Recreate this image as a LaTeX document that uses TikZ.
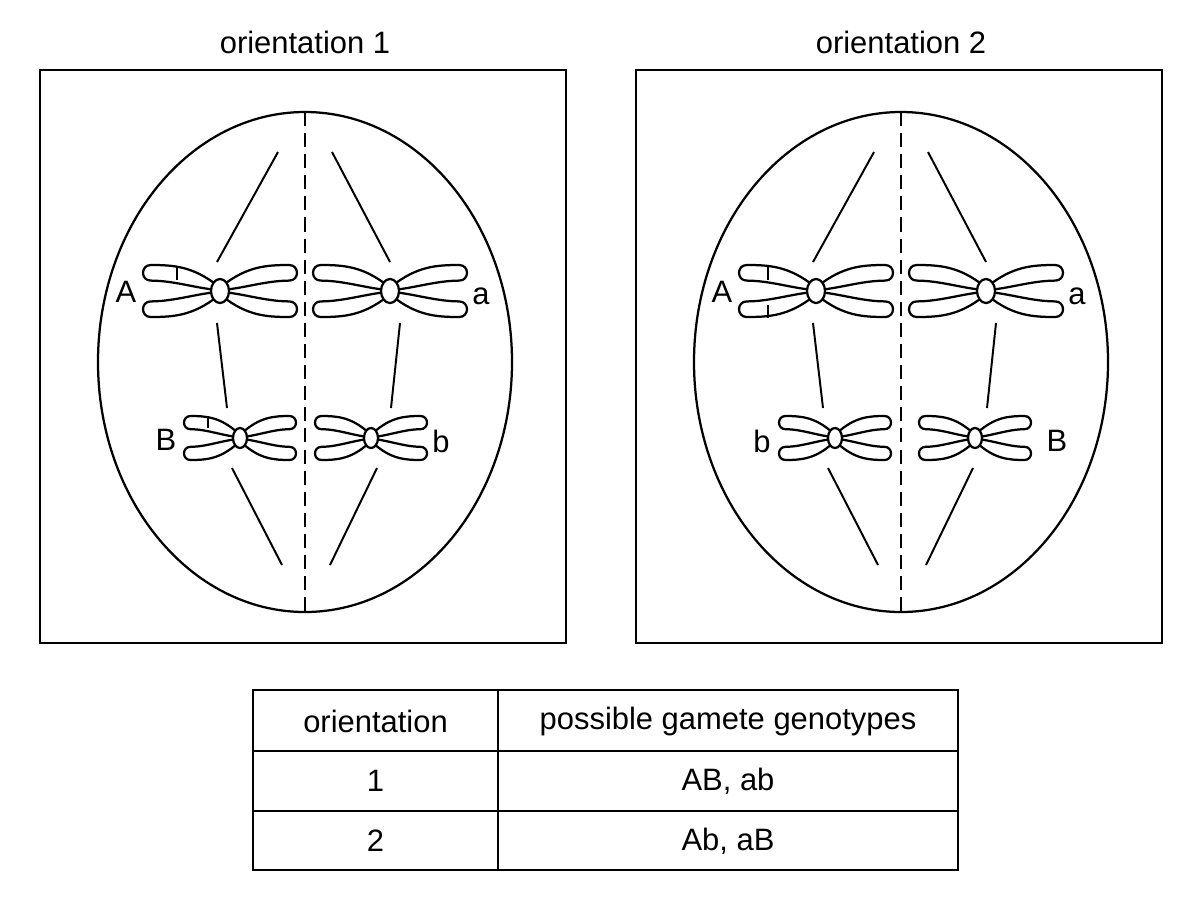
\documentclass[tikz,border=0pt]{standalone}
\usepackage{fontspec}
\setmainfont{Liberation Sans}
\begin{document}
\begin{tikzpicture}[x=0.025cm,y=-0.025cm,line width=1.6pt,
  lbl/.style={font=\fontsize{22}{26}\selectfont,inner sep=0pt},
  spindle/.style={line width=1.4pt},
  band/.style={line width=1.1pt},
  pics/chrom/.style n args={4}{code={
    \foreach \sx/\sy in {1/1,-1/1,1/-1,-1/-1}{
      \begin{scope}[xscale=\sx,yscale=\sy]
      \pgfmathsetmacro\r{0.3*#2}
      \draw[line join=round] (-2,-5) .. controls ({-0.35*#1},{-0.95*#2}) and ({-0.6*#1},{-#2}) .. ({-#1+\r},{-#2})
        .. controls ({-#1-0.33*\r},{-#2}) and ({-#1-0.33*\r},{-0.4*#2}) .. ({-#1+\r},{-0.4*#2})
        .. controls ({-0.6*#1},{-0.4*#2}) and ({-0.3*#1},{-0.1*#2}) .. (-2,-1);
      \end{scope}}
    \draw[fill=white] (0,0) ellipse [x radius=#3,y radius=#4];
  }}]
\useasboundingbox (0,0) rectangle (1200,896);
% panels
\foreach \dx/\n in {0/1,596/2}{
  \begin{scope}[xshift=\dx*0.025cm]
  \draw (40,70) rectangle (566,643);
  \node[lbl] (t\n) at (305,42) {orientation \n};
  \draw (305,362) ellipse [x radius=207,y radius=250];
  \draw[dash pattern=on 10pt off 5pt,line width=1.4pt] (305,112) -- (305,612);
  \pic at (220,291) {chrom={77}{26}{9}{12}};
  \pic at (390,291) {chrom={77}{26}{9}{12}};
  \draw[spindle] (278,152) -- (217,262);
  \draw[spindle] (332,152) -- (390,262);
  \draw[spindle] (217,323) -- (227,408);
  \draw[spindle] (400,323) -- (391,408);
  \draw[spindle] (232,468) -- (282,565);
  \draw[spindle] (377,468) -- (330,565);
  \node[lbl] at (126,292) {A};
  \node[lbl] at (481,296) {a};
  \end{scope}}
% panel 1 small chromosomes
\pic at (240,438) {chrom={56}{22}{7}{10}};
\pic at (371,438) {chrom={56}{22}{7}{10}};
\draw[band] (177,267) -- (177,280);
\draw[band] (208,417) -- (208,428);
\node[lbl] at (166,440) {B};
\node[lbl] at (441,441) {b};
% panel 2 small chromosomes
\pic at (835,438) {chrom={56}{22}{7}{10}};
\pic at (975,438) {chrom={56}{22}{7}{10}};
\draw[band] (768,267) -- (768,280);
\draw[band] (768,305) -- (768,318);
\node[lbl] at (762,441) {b};
\node[lbl] at (1057,441) {B};
% table
\draw (253,690) rectangle (958,870);
\draw (253,751) -- (958,751);
\draw (253,811) -- (958,811);
\draw (498,690) -- (498,870);
\node[lbl] (h1) at (375.5,721) {orientation};
\node[lbl] (h2) at (728,721) {possible gamete genotypes};
\node[lbl] (r1) at (375.5,781) {1};
\node[lbl] (g1) at (728,781) {AB, ab};
\node[lbl] (r2) at (375.5,841) {2};
\node[lbl] (g2) at (728,841) {Ab, aB};
\end{tikzpicture}
\end{document}
